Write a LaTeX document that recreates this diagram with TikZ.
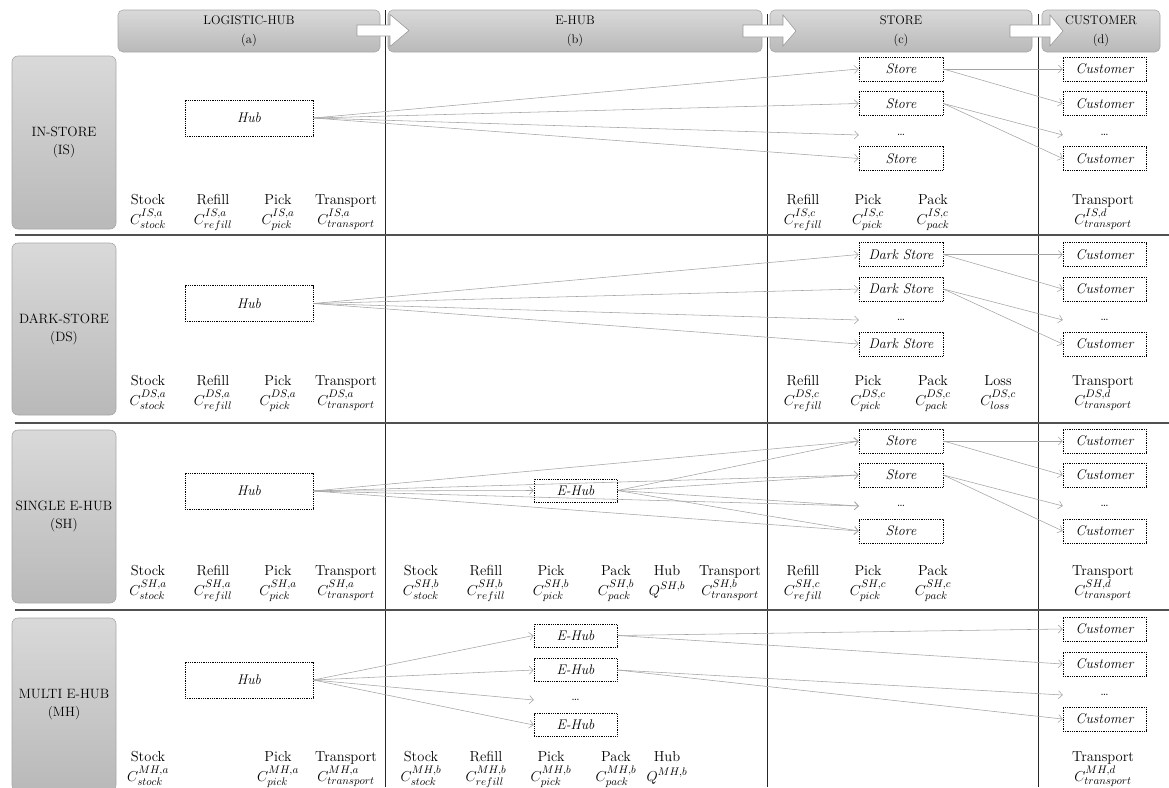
\documentclass[tikz,border=0pt]{standalone}
\usetikzlibrary{arrows.meta}
\definecolor{hdrtop}{HTML}{D9D9D9}
\definecolor{hdrbot}{HTML}{B9B9B9}
\definecolor{hdrdraw}{HTML}{A8A8A8}
\definecolor{conncol}{HTML}{A3A3A3}
\definecolor{sepcol}{HTML}{505050}
\definecolor{arrdraw}{HTML}{9A9A9A}
\newcommand{\cl}[5]{%
  \node[costword] (#1w) at (#2,#3) {#4};
  \node[costmath] (#1m) at (#2,{#3+20}) {$#5$};}
\begin{document}
\begin{tikzpicture}[x=1pt,y=-1pt,
  font=\fontsize{14.5}{18}\selectfont,
  hdr/.style={rounded corners=5pt, top color=hdrtop, bottom color=hdrbot, draw=hdrdraw, line width=0.6pt, align=center, inner sep=0pt, minimum height=42pt, font=\fontsize{12.5}{19}\selectfont},
  rowlbl/.style={rounded corners=6pt, top color=hdrtop, bottom color=hdrbot, draw=hdrdraw, line width=0.6pt, align=center, inner sep=0pt, minimum width=104pt, minimum height=173pt, font=\fontsize{13.5}{18}\selectfont},
  dbox/.style={draw=black, line width=0.75pt, dash pattern=on 0.9pt off 0.9pt, font=\fontsize{14}{16}\selectfont\itshape, inner sep=0pt, minimum width=84pt, minimum height=24pt},
  dotsn/.style={inner sep=0pt, minimum width=84pt, minimum height=24pt, font=\fontsize{13}{14}\selectfont},
  conn/.style={draw=conncol, line width=0.55pt, -{Straight Barb[length=4pt,width=8pt]}},
  costword/.style={anchor=base, inner sep=0pt},
  costmath/.style={anchor=base, inner sep=0pt, font=\fontsize{15}{18}\selectfont},
  vsep/.style={draw=black!85, line width=0.8pt},
  hsep/.style={draw=sepcol, line width=1.3pt},
  barrow/.style={fill=white, draw=arrdraw, line width=0.6pt, line join=miter}
]
\useasboundingbox (0,0) rectangle (1169,787);

% headers
\node[hdr, minimum width=262pt] (hA) at (249,31) {LOGISTIC-HUB\\(a)};
\node[hdr, minimum width=374pt] (hB) at (575,31) {E-HUB\\(b)};
\node[hdr, minimum width=262pt] (hC) at (901,31) {STORE\\(c)};
\node[hdr, minimum width=118pt] (hD) at (1101,31) {CUSTOMER\\(d)};

% separators
\draw[vsep] (385,10) -- (385,787);
\draw[vsep] (767,14) -- (767,787);
\draw[vsep] (1038,14) -- (1038,787);
\draw[hsep] (15,235) -- (1169,235);
\draw[hsep] (15,423) -- (1169,423);
\draw[hsep] (15,610) -- (1169,610);

% block arrows
\draw[barrow] (357,25) -- (390,25) -- (390,14.5) -- (409,30.5) -- (390,46.5) -- (390,36) -- (357,36) -- cycle;
\draw[barrow] (743,25) -- (783,25) -- (783,15) -- (796,31) -- (783,46) -- (783,37) -- (743,37) -- cycle;
\draw[barrow] (1010,25) -- (1050,25) -- (1050,15) -- (1063,31) -- (1050,46) -- (1050,37) -- (1010,37) -- cycle;

% row labels
\node[rowlbl] (rIS) at (64,142.5) {IN-STORE\\(IS)};
\node[rowlbl, minimum height=172pt] (rDS) at (64,329) {DARK-STORE\\(DS)};
\node[rowlbl] (rSH) at (64,516.5) {SINGLE E-HUB\\(SH)};
\node[rowlbl] (rMH) at (64,704.5) {MULTI E-HUB\\(MH)};

% ===== IS row =====
\node[dbox, minimum width=128pt, minimum height=36pt] (hubIS) at (249,118) {Hub};
\node[dbox] (sIS1) at (901,69) {Store};
\node[dbox] (sIS2) at (901,103.5) {Store};
\node[dotsn] (sIS3) at (901,135) {\dots};
\node[dbox] (sIS4) at (901,158.5) {Store};
\node[dbox, minimum width=83pt] (cIS1) at (1104.5,69) {Customer};
\node[dbox, minimum width=83pt] (cIS2) at (1104.5,103.5) {Customer};
\node[dotsn, minimum width=83pt] (cIS3) at (1104.5,135) {\dots};
\node[dbox, minimum width=83pt] (cIS4) at (1104.5,158.5) {Customer};
\foreach \s in {sIS1,sIS2,sIS3,sIS4} \draw[conn] (hubIS.east) -- (\s.west);
\draw[conn] (sIS1.east) -- (cIS1.west);
\draw[conn] (sIS1.east) -- (cIS2.west);
\draw[conn] (sIS2.east) -- (cIS3.west);
\draw[conn] (sIS2.east) -- (cIS4.west);
\cl{isA1}{148}{204}{Stock}{C^{IS,a}_{stock}}
\cl{isA2}{213}{204}{Refill}{C^{IS,a}_{refill}}
\cl{isA3}{278}{204}{Pick}{C^{IS,a}_{pick}}
\cl{isA4}{346}{204}{Transport}{C^{IS,a}_{transport}}
\cl{isC1}{803}{204}{Refill}{C^{IS,c}_{refill}}
\cl{isC2}{868}{204}{Pick}{C^{IS,c}_{pick}}
\cl{isC3}{933}{204}{Pack}{C^{IS,c}_{pack}}
\cl{isD1}{1103}{204}{Transport}{C^{IS,d}_{transport}}

% ===== DS row =====
\node[dbox, minimum width=128pt, minimum height=36pt] (hubDS) at (249,303.5) {Hub};
\node[dbox] (sDS1) at (901,254.5) {Dark Store};
\node[dbox] (sDS2) at (901,289) {Dark Store};
\node[dotsn] (sDS3) at (901,320) {\dots};
\node[dbox] (sDS4) at (901,344) {Dark Store};
\node[dbox, minimum width=83pt] (cDS1) at (1104.5,254.5) {Customer};
\node[dbox, minimum width=83pt] (cDS2) at (1104.5,289) {Customer};
\node[dotsn, minimum width=83pt] (cDS3) at (1104.5,320) {\dots};
\node[dbox, minimum width=83pt] (cDS4) at (1104.5,344) {Customer};
\foreach \s in {sDS1,sDS2,sDS3,sDS4} \draw[conn] (hubDS.east) -- (\s.west);
\draw[conn] (sDS1.east) -- (cDS1.west);
\draw[conn] (sDS1.east) -- (cDS2.west);
\draw[conn] (sDS2.east) -- (cDS3.west);
\draw[conn] (sDS2.east) -- (cDS4.west);
\cl{dsA1}{148}{385}{Stock}{C^{DS,a}_{stock}}
\cl{dsA2}{213}{385}{Refill}{C^{DS,a}_{refill}}
\cl{dsA3}{278}{385}{Pick}{C^{DS,a}_{pick}}
\cl{dsA4}{346}{385}{Transport}{C^{DS,a}_{transport}}
\cl{dsC1}{803}{385}{Refill}{C^{DS,c}_{refill}}
\cl{dsC2}{868}{385}{Pick}{C^{DS,c}_{pick}}
\cl{dsC3}{933}{385}{Pack}{C^{DS,c}_{pack}}
\cl{dsC4}{998}{385}{Loss}{C^{DS,c}_{loss}}
\cl{dsD1}{1103}{385}{Transport}{C^{DS,d}_{transport}}

% ===== SH row =====
\node[dbox, minimum width=128pt, minimum height=36pt] (hubSH) at (249,491) {Hub};
\node[dbox, minimum width=83pt, minimum height=23pt] (ehSH) at (575.5,490.5) {E-Hub};
\node[dbox] (sSH1) at (901,441) {Store};
\node[dbox] (sSH2) at (901,475) {Store};
\node[dotsn] (sSH3) at (901,506) {\dots};
\node[dbox] (sSH4) at (901,531) {Store};
\node[dbox, minimum width=83pt] (cSH1) at (1104.5,441) {Customer};
\node[dbox, minimum width=83pt] (cSH2) at (1104.5,475) {Customer};
\node[dotsn, minimum width=83pt] (cSH3) at (1104.5,506) {\dots};
\node[dbox, minimum width=83pt] (cSH4) at (1104.5,531) {Customer};
\draw[conn] (hubSH.east) -- (ehSH.west);
\foreach \s in {sSH1,sSH2,sSH3,sSH4} {
  \draw[conn] (hubSH.east) -- (\s.west);
  \draw[conn] (ehSH.east) -- (\s.west);
}
\draw[conn] (sSH1.east) -- (cSH1.west);
\draw[conn] (sSH1.east) -- (cSH2.west);
\draw[conn] (sSH2.east) -- (cSH3.west);
\draw[conn] (sSH2.east) -- (cSH4.west);
\cl{shA1}{148}{575}{Stock}{C^{SH,a}_{stock}}
\cl{shA2}{213}{575}{Refill}{C^{SH,a}_{refill}}
\cl{shA3}{278}{575}{Pick}{C^{SH,a}_{pick}}
\cl{shA4}{346}{575}{Transport}{C^{SH,a}_{transport}}
\cl{shB1}{421}{575}{Stock}{C^{SH,b}_{stock}}
\cl{shB2}{486}{575}{Refill}{C^{SH,b}_{refill}}
\cl{shB3}{551}{575}{Pick}{C^{SH,b}_{pick}}
\cl{shB4}{616}{575}{Pack}{C^{SH,b}_{pack}}
\cl{shB5}{667}{575}{Hub}{Q^{SH,b}}
\cl{shB6}{730}{575}{Transport}{C^{SH,b}_{transport}}
\cl{shC1}{803}{575}{Refill}{C^{SH,c}_{refill}}
\cl{shC2}{868}{575}{Pick}{C^{SH,c}_{pick}}
\cl{shC3}{933}{575}{Pack}{C^{SH,c}_{pack}}
\cl{shD1}{1103}{575}{Transport}{C^{SH,d}_{transport}}

% ===== MH row =====
\node[dbox, minimum width=128pt, minimum height=36pt] (hubMH) at (249,680) {Hub};
\node[dbox, minimum width=83pt, minimum height=23pt] (eMH1) at (575.5,635.5) {E-Hub};
\node[dbox, minimum width=83pt, minimum height=23pt] (eMH2) at (575.5,670) {E-Hub};
\node[dotsn, minimum width=83pt, minimum height=23pt] (eMH3) at (575.5,700) {\dots};
\node[dbox, minimum width=83pt, minimum height=23pt] (eMH4) at (575.5,725) {E-Hub};
\node[dbox, minimum width=83pt] (cMH1) at (1104.5,629) {Customer};
\node[dbox, minimum width=83pt] (cMH2) at (1104.5,664) {Customer};
\node[dotsn, minimum width=83pt] (cMH3) at (1104.5,695) {\dots};
\node[dbox, minimum width=83pt] (cMH4) at (1104.5,719) {Customer};
\foreach \s in {eMH1,eMH2,eMH3,eMH4} \draw[conn] (hubMH.east) -- (\s.west);
\draw[conn] (eMH1.east) -- (cMH1.west);
\draw[conn] (eMH1.east) -- (cMH2.west);
\draw[conn] (eMH2.east) -- (cMH3.west);
\draw[conn] (eMH2.east) -- (cMH4.west);
\cl{mhA1}{148}{761}{Stock}{C^{MH,a}_{stock}}
\cl{mhA3}{278}{761}{Pick}{C^{MH,a}_{pick}}
\cl{mhA4}{346}{761}{Transport}{C^{MH,a}_{transport}}
\cl{mhB1}{421}{761}{Stock}{C^{MH,b}_{stock}}
\cl{mhB2}{486}{761}{Refill}{C^{MH,b}_{refill}}
\cl{mhB3}{551}{761}{Pick}{C^{MH,b}_{pick}}
\cl{mhB4}{616}{761}{Pack}{C^{MH,b}_{pack}}
\cl{mhB5}{667}{761}{Hub}{Q^{MH,b}}
\cl{mhD1}{1103}{761}{Transport}{C^{MH,d}_{transport}}
\end{tikzpicture}
\end{document}
